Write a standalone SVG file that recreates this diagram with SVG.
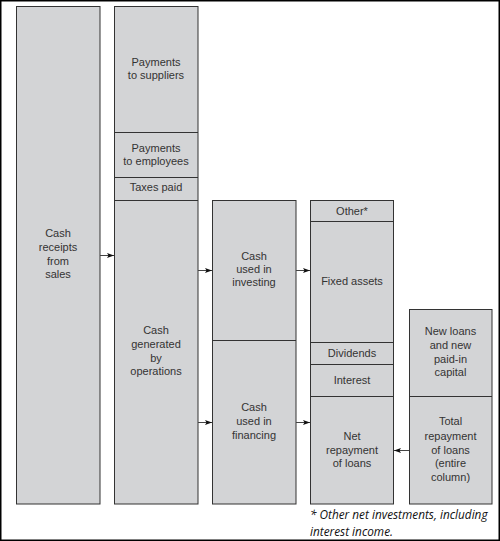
<svg xmlns="http://www.w3.org/2000/svg" width="500" height="541" viewBox="0 0 500 541">
<style>
.box{fill:#d3d4d6;stroke:#333;stroke-width:1}
.div{stroke:#333;stroke-width:1;fill:none}
.t{font-family:"Liberation Sans",Arial,sans-serif;font-size:11px;fill:#333;text-anchor:middle}
.c{stroke:#444;stroke-width:1;fill:none}
.fn{font-family:"Open Sans","DejaVu Sans",sans-serif;font-size:11.8px;font-style:italic;fill:#111}
</style>
<defs>
<marker id="ah" viewBox="0 0 7 5" refX="7" refY="2.5" markerWidth="7" markerHeight="5" markerUnits="userSpaceOnUse" orient="auto">
<path d="M0,0 L7,2.5 L0,5 L1.5,2.5 Z" fill="#111"/>
</marker>
</defs>
<rect x="0.75" y="0.75" width="498.5" height="539.5" fill="#fff" stroke="#000" stroke-width="1.5"/>

<g id="sales">
<rect class="box" x="16.5" y="6.5" width="83.5" height="497.5"/>
<text class="t"><tspan x="58" y="237">Cash</tspan><tspan x="58" y="251">receipts</tspan><tspan x="58" y="265">from</tspan><tspan x="58" y="278">sales</tspan></text>
</g>

<g id="operations">
<rect class="box" x="114.5" y="6.5" width="83.5" height="497.5"/>
<line class="div" x1="114.5" y1="132.5" x2="198" y2="132.5"/>
<line class="div" x1="114.5" y1="177.5" x2="198" y2="177.5"/>
<line class="div" x1="114.5" y1="200.5" x2="198" y2="200.5"/>
<text class="t"><tspan x="156" y="66">Payments</tspan><tspan x="156" y="79">to suppliers</tspan></text>
<text class="t"><tspan x="156" y="152">Payments</tspan><tspan x="156" y="165">to employees</tspan></text>
<text class="t" x="156" y="191">Taxes paid</text>
<text class="t"><tspan x="156" y="334">Cash</tspan><tspan x="156" y="348">generated</tspan><tspan x="156" y="362">by</tspan><tspan x="156" y="375">operations</tspan></text>
</g>

<g id="investing-financing">
<rect class="box" x="212.5" y="200.5" width="83.5" height="303.5"/>
<line class="div" x1="212.5" y1="340.5" x2="296" y2="340.5"/>
<text class="t"><tspan x="254" y="260">Cash</tspan><tspan x="254" y="273">used in</tspan><tspan x="254" y="286">investing</tspan></text>
<text class="t"><tspan x="254" y="411">Cash</tspan><tspan x="254" y="425">used in</tspan><tspan x="254" y="439">financing</tspan></text>
</g>

<g id="uses">
<rect class="box" x="310.5" y="200.5" width="83" height="303.5"/>
<line class="div" x1="310.5" y1="221.5" x2="393.5" y2="221.5"/>
<line class="div" x1="310.5" y1="342.5" x2="393.5" y2="342.5"/>
<line class="div" x1="310.5" y1="364.5" x2="393.5" y2="364.5"/>
<line class="div" x1="310.5" y1="396.5" x2="393.5" y2="396.5"/>
<text class="t" x="352" y="215">Other*</text>
<text class="t" x="352" y="285">Fixed assets</text>
<text class="t" x="352" y="356.5">Dividends</text>
<text class="t" x="352" y="384">Interest</text>
<text class="t"><tspan x="352" y="440">Net</tspan><tspan x="352" y="453.5">repayment</tspan><tspan x="352" y="467">of loans</tspan></text>
</g>

<g id="loans">
<rect class="box" x="409.5" y="309.5" width="82.5" height="194.5"/>
<line class="div" x1="409.5" y1="396.5" x2="492" y2="396.5"/>
<text class="t"><tspan x="450.5" y="335">New loans</tspan><tspan x="450.5" y="349">and new</tspan><tspan x="450.5" y="363">paid-in</tspan><tspan x="450.5" y="376">capital</tspan></text>
<text class="t"><tspan x="450.5" y="425">Total</tspan><tspan x="450.5" y="440">repayment</tspan><tspan x="450.5" y="453.5">of loans</tspan><tspan x="450.5" y="467">(entire</tspan><tspan x="450.5" y="481">column)</tspan></text>
</g>

<g id="connectors">
<line class="c" x1="100" y1="255.5" x2="114" y2="255.5" marker-end="url(#ah)"/>
<line class="c" x1="198" y1="270.5" x2="212" y2="270.5" marker-end="url(#ah)"/>
<line class="c" x1="296" y1="270.5" x2="310" y2="270.5" marker-end="url(#ah)"/>
<line class="c" x1="198" y1="422.5" x2="212" y2="422.5" marker-end="url(#ah)"/>
<line class="c" x1="296" y1="422.5" x2="310" y2="422.5" marker-end="url(#ah)"/>
<line class="c" x1="409" y1="450.5" x2="394" y2="450.5" marker-end="url(#ah)"/>
</g>

<g id="footnote">
<text class="fn" x="310" y="519">* Other net investments, including</text>
<text class="fn" x="310" y="536">interest income.</text>
</g>
</svg>
